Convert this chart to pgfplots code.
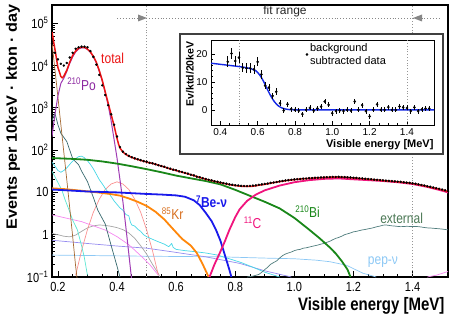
\documentclass[border=0pt]{standalone}
\usepackage{fontspec}
\setmainfont{Liberation Sans}
\usepackage{graphicx}
\usepackage{pgfplots}
\pgfplotsset{compat=1.18}
\newcommand{\vs}[1]{\scalebox{1}[1.2]{#1}}
\definecolor{cTot}{RGB}{235,20,20}
\definecolor{cPo}{RGB}{160,60,180}
\definecolor{cPoT}{RGB}{140,40,160}
\definecolor{cBe}{RGB}{25,25,235}
\definecolor{cKr}{RGB}{255,135,10}
\definecolor{cKrT}{RGB}{215,110,30}
\definecolor{cBi}{RGB}{25,135,25}
\definecolor{cC}{RGB}{240,20,125}
\definecolor{cExt}{RGB}{80,125,125}
\definecolor{cExtT}{RGB}{75,120,85}
\definecolor{cPep}{RGB}{140,200,245}
\definecolor{cBrown}{RGB}{165,105,50}
\definecolor{cTeal}{RGB}{55,105,110}
\definecolor{cCyan}{RGB}{70,215,230}
\definecolor{cAqua}{RGB}{90,230,210}
\definecolor{cCoral}{RGB}{250,145,145}
\definecolor{cOrchid}{RGB}{245,135,240}
\definecolor{cGray}{RGB}{165,165,165}
\definecolor{cLav}{RGB}{150,140,240}
\definecolor{cFit}{RGB}{20,40,230}
\definecolor{cVL}{RGB}{150,150,150}
\begin{document}
\begin{tikzpicture}
\useasboundingbox (0,0) rectangle (457pt,324pt);
% ---- main spectrum ----
\begin{axis}[
  at={(52pt,47pt)}, anchor=south west,
  scale only axis, width=396pt, height=272pt,
  ymode=log,
  xmin=0.18, xmax=1.52, ymin=0.1, ymax=2.7e5,
  xtick={0.2,0.4,0.6,0.8,1.0,1.2,1.4},
  xticklabels={\vs{0.2},\vs{0.4},\vs{0.6},\vs{0.8},\vs{1.0},\vs{1.2},\vs{1.4}},
  minor x tick num=3,
  ytick={0.1,1,10,100,1000,10000,100000},
  yticklabels={\vs{10\textsuperscript{−1}},\vs{1},\vs{10},\vs{10\textsuperscript{2}},\vs{10\textsuperscript{3}},\vs{10\textsuperscript{4}},\vs{10\textsuperscript{5}}},
  xtick pos=left, ytick pos=left,
  tick align=inside,
  major tick length=6pt, minor tick length=3pt,
  axis line style={line width=1.1pt},
  tick style={black, line width=0.7pt},
  tick label style={font=\fontsize{11}{12}\selectfont},
  xticklabel style={yshift=-1.5pt},
  every axis plot/.append style={line join=round},
]
% guide lines at the fit range limits
\addplot[cVL, dotted, line width=0.9pt] coordinates {(0.5,0.1)(0.5,2.7e5)};
\addplot[cVL, dotted, line width=0.9pt] coordinates {(1.4,0.1)(1.4,2.7e5)};
% thin components
\addplot[cPep, line width=0.7pt] coordinates {
 (0.18,0.33)(0.5,0.31)(0.75,0.30)(0.9,0.28)(1.0,0.27)(1.074,0.25)(1.12,0.23)(1.176,0.19)(1.232,0.123)(1.277,0.1)};
\addplot[cLav, line width=0.7pt] coordinates {
 (0.18,0.74)(0.3,0.62)(0.4,0.54)(0.5,0.48)(0.58,0.40)(0.7,0.30)(0.815,0.21)(0.9,0.14)(0.99,0.1)};
\addplot[cGray, line width=0.7pt] coordinates {
 (0.18,1.07)(0.20,1.0)(0.22,0.92)(0.24,0.89)(0.26,0.98)(0.28,1.2)(0.30,1.45)(0.32,1.62)(0.34,1.7)(0.36,1.66)
 (0.38,1.58)(0.40,1.47)(0.42,1.32)(0.44,1.1)(0.46,0.82)(0.48,0.55)(0.50,0.35)(0.52,0.2)(0.54,0.12)(0.545,0.1)};
\addplot[cOrchid, line width=0.7pt] coordinates {
 (0.18,2.95)(0.23,2.45)(0.28,2.04)(0.32,1.62)(0.36,1.29)(0.40,0.9)(0.44,0.58)(0.48,0.32)(0.51,0.2)(0.54,0.11)};
\addplot[cOrchid, line width=0.7pt] coordinates {(1.45,0.1)(1.48,0.11)(1.52,0.135)};
\addplot[cCoral, line width=0.7pt] coordinates {
 (0.26,0.11)(0.28,0.42)(0.30,1.32)(0.32,3.4)(0.34,6.9)(0.36,11.7)(0.38,15.8)(0.40,17.8)(0.42,15.8)
 (0.44,11.7)(0.46,6.9)(0.48,3.4)(0.50,1.32)(0.52,0.42)(0.54,0.11)};
\addplot[cAqua, line width=0.7pt] coordinates {
 (0.18,32)(0.195,20)(0.213,11.5)(0.225,6.5)(0.238,3.8)(0.25,2.2)(0.266,1.3)(0.28,0.55)(0.289,0.3)(0.30,0.11)};
\addplot[cCyan, line width=0.7pt] coordinates {
 (0.18,52)(0.19,42)(0.20,33)(0.21,30)(0.22,33)(0.23,38)(0.24,46)(0.25,55)(0.26,63)(0.27,70)(0.28,72)
 (0.29,66)(0.30,56)(0.31,46)(0.32,36)(0.33,27)(0.34,20)(0.35,16)(0.36,12.5)(0.37,10)(0.38,8)(0.39,6.3)
 (0.40,5.2)(0.41,4.3)(0.42,3.8)(0.43,3.0)(0.44,2.8)(0.445,2.0)(0.45,1.7)(0.46,1.6)(0.47,1.35)(0.48,1.2)
 (0.49,1.0)(0.50,0.9)(0.52,0.78)(0.54,0.68)(0.56,0.6)(0.575,0.52)(0.585,0.62)(0.59,0.5)(0.60,0.45)
 (0.63,0.42)(0.66,0.4)(0.70,0.37)(0.74,0.33)(0.78,0.27)(0.82,0.22)(0.86,0.17)(0.90,0.13)(0.95,0.1)};
\addplot[cTeal, line width=0.7pt] coordinates {
 (0.18,500)(0.19,740)(0.20,400)(0.21,250)(0.23,160)(0.25,63)(0.27,45)(0.28,32)(0.30,18)(0.32,7.6)
 (0.335,3.8)(0.36,1.8)(0.38,0.56)(0.40,0.18)(0.41,0.1)};
\addplot[cBrown, line width=0.7pt] coordinates {
 (0.18,35000)(0.19,7900)(0.20,1800)(0.21,400)(0.22,89)(0.23,20)(0.24,4.3)(0.25,0.9)(0.26,0.18)(0.265,0.09)};
\addplot[cExt, line width=0.7pt] coordinates {
 (0.84,0.1)(0.86,0.105)(0.88,0.115)(0.89,0.13)(0.90,0.15)(0.91,0.17)(0.92,0.2)(0.93,0.22)(0.94,0.24)
 (0.95,0.28)(0.96,0.32)(0.97,0.35)(0.98,0.37)(0.99,0.39)(1.00,0.42)(1.01,0.44)(1.02,0.45)(1.03,0.48)
 (1.04,0.49)(1.05,0.51)(1.06,0.53)(1.07,0.55)(1.08,0.57)(1.09,0.6)(1.10,0.62)(1.11,0.66)(1.12,0.7)
 (1.13,0.76)(1.14,0.82)(1.15,0.86)(1.16,0.92)(1.17,1.0)(1.18,1.05)(1.19,1.1)(1.20,1.17)(1.21,1.2)
 (1.22,1.25)(1.23,1.3)(1.24,1.33)(1.25,1.38)(1.26,1.42)(1.27,1.48)(1.28,1.55)(1.29,1.6)(1.30,1.68)
 (1.31,1.7)(1.32,1.66)(1.33,1.62)(1.34,1.6)(1.35,1.57)(1.36,1.55)(1.37,1.56)(1.38,1.58)(1.39,1.57)
 (1.40,1.56)(1.41,1.57)(1.42,1.55)(1.43,1.52)(1.44,1.48)(1.45,1.45)(1.46,1.44)(1.47,1.42)(1.48,1.4)
 (1.49,1.38)(1.50,1.36)(1.51,1.33)(1.52,1.3)};
% 210Po
\addplot[cPo, line width=1pt] coordinates {
 (0.18,210)(0.19,700)(0.20,1900)(0.21,3800)(0.22,5000)(0.23,7200)(0.24,11200)(0.25,16000)(0.26,21000)
 (0.27,24500)(0.28,26300)(0.29,26300)(0.30,24000)(0.31,20500)(0.32,16000)(0.33,11500)(0.34,7200)
 (0.35,4300)(0.36,2300)(0.37,1150)(0.38,500)(0.39,180)(0.40,65)(0.41,20)(0.42,6)(0.43,1.5)(0.44,0.35)(0.45,0.08)};
% thick components
\addplot[cKr, line width=1.8pt] coordinates {
 (0.18,12.5)(0.22,12.0)(0.26,11.3)(0.30,10.6)(0.34,9.9)(0.38,9.1)(0.41,8.4)(0.44,7.2)(0.47,6.0)
 (0.50,4.8)(0.53,3.5)(0.56,2.3)(0.59,1.35)(0.62,0.8)(0.65,0.55)(0.67,0.37)(0.69,0.2)(0.71,0.1)};
\addplot[cBe, line width=1.8pt] coordinates {
 (0.18,11.7)(0.25,11.0)(0.30,10.5)(0.40,10.0)(0.50,9.2)(0.55,8.9)(0.60,8.5)(0.63,7.9)(0.66,6.5)
 (0.68,5.0)(0.70,3.3)(0.72,2.1)(0.735,1.3)(0.75,0.72)(0.765,0.33)(0.78,0.15)(0.787,0.1)};
\addplot[cBi, line width=1.8pt] coordinates {
 (0.18,65)(0.25,62)(0.30,59)(0.35,54)(0.40,48)(0.45,41.5)(0.50,35.5)(0.55,30)(0.60,25)(0.65,21.5)
 (0.70,18.6)(0.75,15.5)(0.80,11.5)(0.85,8.3)(0.90,6.0)(0.95,4.2)(1.00,2.5)(1.05,1.32)(1.085,0.83)
 (1.12,0.5)(1.14,0.36)(1.16,0.24)(1.18,0.15)(1.19,0.1)};
\addplot[cC, line width=1.8pt] coordinates {
 (0.713,0.1)(0.73,0.2)(0.747,0.36)(0.765,0.7)(0.78,1.29)(0.80,2.6)(0.815,4.0)(0.84,6.3)(0.87,8.9)
 (0.90,11.2)(0.95,14.5)(1.00,17.4)(1.05,19.5)(1.10,20.9)(1.15,21.4)(1.20,20.4)(1.25,19.5)(1.30,18.6)
 (1.35,17.4)(1.40,15.8)(1.45,13.5)(1.50,11.0)(1.52,10.0)};
% total fit
\addplot[cTot, line width=1.5pt] coordinates {
 (0.18,62000)(0.19,24000)(0.20,9000)(0.21,5500)(0.215,5100)(0.22,5600)(0.23,7700)(0.24,12000)
 (0.25,17400)(0.26,22000)(0.27,25700)(0.28,27000)(0.29,27000)(0.30,24500)(0.31,21000)(0.32,16500)
 (0.33,12000)(0.34,7600)(0.35,4500)(0.36,2400)(0.37,1300)(0.38,700)(0.39,380)(0.40,190)(0.405,140)
 (0.41,112)(0.42,90)(0.43,79)(0.44,72)(0.45,67)(0.46,63)(0.47,60)(0.48,57)(0.49,55)(0.50,52)
 (0.52,48.5)(0.54,44)(0.56,40)(0.58,36)(0.60,33)(0.62,30)(0.64,27.5)(0.66,25)(0.68,22.5)(0.70,20.5)
 (0.72,19)(0.74,17.6)(0.76,16.4)(0.78,15.3)(0.80,14.5)(0.82,14)(0.84,13.8)(0.86,14)(0.88,14.8)
 (0.90,15.5)(0.92,16.5)(0.94,17.5)(0.96,18.4)(0.98,19.3)(1.00,20)(1.02,20.7)(1.04,21.2)(1.06,21.7)
 (1.08,22.1)(1.10,22.5)(1.12,22.8)(1.14,23)(1.16,22.9)(1.18,22.5)(1.20,22)(1.22,21.4)(1.24,20.8)
 (1.26,20.2)(1.28,19.6)(1.30,19)(1.32,18.5)(1.34,18)(1.36,17.5)(1.38,16.9)(1.40,16.2)(1.42,15.3)
 (1.44,14.3)(1.46,13.3)(1.48,12.4)(1.50,11.5)(1.52,10.5)};
% data
\addplot[only marks, mark=*, mark size=1.05pt, black] coordinates {
 (0.18,33000)(0.19,20000)(0.20,14000)(0.21,11000)(0.22,10000)(0.23,11500)(0.24,15500)(0.25,20000)
 (0.26,25000)(0.27,27000)(0.28,28000)(0.29,28000)(0.30,27000)(0.31,22000)(0.32,16000)(0.33,10500)
 (0.34,6000)(0.35,3400)(0.36,2000)(0.37,1150)(0.38,700)(0.39,400)(0.40,210)(0.41,118)(0.42,92)
 (0.43,81)(0.44,73)(0.45,68)(0.46,64)(0.47,61)(0.48,58)(0.49,55)(0.50,53.5)(0.51,50)(0.52,49)
 (0.53,46.5)(0.54,44)(0.55,42)(0.56,40.5)(0.57,38)(0.58,36.5)(0.59,34.5)(0.60,33.5)(0.61,31.5)
 (0.62,30.5)(0.63,29)(0.64,27.8)(0.65,26.2)(0.66,25.3)(0.67,23.6)(0.68,22.8)(0.69,21.7)(0.70,20.8)
 (0.71,19.9)(0.72,19.3)(0.73,18.4)(0.74,17.9)(0.75,17.2)(0.76,16.6)(0.77,16.1)(0.78,15.5)(0.79,15.2)
 (0.80,14.8)(0.81,14.6)(0.82,14.3)(0.83,14.2)(0.84,14.1)(0.85,14.3)(0.86,14.5)(0.87,14.7)(0.88,15.2)
 (0.89,15.5)(0.90,15.9)(0.91,16.2)(0.92,16.8)(0.93,17.2)(0.94,17.6)(0.95,18.3)(0.96,18.6)(0.97,19.2)
 (0.98,19.5)(0.99,19.9)(1.00,20.3)(1.01,20.6)(1.02,20.8)(1.03,21.2)(1.04,21.3)(1.05,21.8)(1.06,21.8)
 (1.07,22.2)(1.08,22.3)(1.09,22.6)(1.10,22.7)(1.11,22.9)(1.12,23.1)(1.13,23.3)(1.14,23.2)(1.15,23.4)
 (1.16,23.1)(1.17,23.0)(1.18,22.8)(1.19,22.6)(1.20,22.2)(1.21,22.0)(1.22,21.6)(1.23,21.4)(1.24,21.0)
 (1.25,20.8)(1.26,20.5)(1.27,20.1)(1.28,19.9)(1.29,19.6)(1.30,19.3)(1.31,19.0)(1.32,18.8)(1.33,18.5)
 (1.34,18.3)(1.35,18.0)(1.36,17.8)(1.37,17.4)(1.38,17.1)(1.39,16.8)(1.40,16.4)(1.41,16.0)(1.42,15.5)
 (1.43,15.0)(1.44,14.6)(1.45,14.0)(1.46,13.6)(1.47,13.1)(1.48,12.6)(1.49,12.2)(1.50,11.7)(1.51,11.2)
 (1.52,10.7)};
% curve labels
\node[cTot, font=\fontsize{12}{12}\selectfont] at (axis cs:0.385,15000) {\vs{total}};
\node[cPoT, font=\fontsize{12}{12}\selectfont] at (axis cs:0.28,3600) {\vs{\textsuperscript{210}Po}};
\node[cBe, font=\bfseries\fontsize{12}{12}\selectfont] at (axis cs:0.72,6.0) {\vs{\textsuperscript{7}Be-ν}};
\node[cKrT, font=\fontsize{12}{12}\selectfont] at (axis cs:0.588,3.2) {\vs{\textsuperscript{85}Kr}};
\node[cC, font=\fontsize{12}{12}\selectfont] at (axis cs:0.859,1.9) {\vs{\textsuperscript{11}C}};
\node[cBi, font=\fontsize{12}{12}\selectfont] at (axis cs:1.045,3.5) {\vs{\textsuperscript{210}Bi}};
\node[cExtT, font=\fontsize{12}{12}\selectfont] at (axis cs:1.363,2.45) {\vs{external}};
\node[cPep, font=\fontsize{12}{12}\selectfont] at (axis cs:1.30,0.226) {\vs{pep-ν}};
\end{axis}
% fit range marker
\draw[cVL!90!black, dotted, line width=0.9pt] (117pt,306pt) -- (440pt,306pt);
\fill[cVL!90!black] (138pt,302.5pt) -- (147pt,306pt) -- (138pt,309.5pt) -- cycle;
\fill[cVL!90!black] (422pt,302.5pt) -- (413pt,306pt) -- (422pt,309.5pt) -- cycle;
\node[black!85, font=\fontsize{12}{12}\selectfont] at (285pt,313pt) {fit range};
% axis titles
\node[anchor=base east, font=\bfseries\fontsize{15}{15}\selectfont] at (448pt,14pt) {\vs{Visible energy [MeV]}};
\node[rotate=90, font=\bfseries\fontsize{15}{15}\selectfont] at (13pt,207pt) {\scalebox{1.08}[1]{Events per 10keV · kton · day}};
% ---- inset ----
\draw[black!75, line width=1.2pt, fill=white] (180pt,170pt) rectangle (443pt,290pt);
\begin{axis}[
  at={(211pt,199pt)}, anchor=south west,
  scale only axis, width=223pt, height=85pt,
  xmin=0.35, xmax=1.545, ymin=-5.4, ymax=25,
  xtick={0.4,0.6,0.8,1.0,1.2,1.4},
  xticklabels={0.4,0.6,0.8,1.0,1.2,1.4},
  ytick={0,10,20}, yticklabels={0,10,20},
  minor x tick num=3, minor y tick num=4,
  xtick pos=left, ytick pos=left,
  tick align=inside,
  major tick length=4pt, minor tick length=2pt,
  axis line style={line width=0.9pt},
  tick style={black, line width=0.6pt},
  tick label style={font=\fontsize{10}{11}\selectfont},
  legend style={draw=none, fill=none, at={(0.42,1.0)}, anchor=north west,
    font=\fontsize{11}{13}\selectfont, inner sep=1pt, row sep=0pt,
    cells={align=left}},
  legend cell align=left,
]
\addplot[cVL, dotted, line width=0.8pt, forget plot] coordinates {(0.5,-5.4)(0.5,25)};
\addplot[cVL, dotted, line width=0.8pt, forget plot] coordinates {(1.4,-5.4)(1.4,25)};
\addplot[cFit, line width=1.4pt, smooth, forget plot] coordinates {
 (0.35,16.7)(0.40,16.3)(0.45,15.9)(0.50,15.5)(0.54,15.1)(0.57,14.6)(0.59,14.0)(0.61,12.6)(0.63,10.4)
 (0.65,7.6)(0.67,5.0)(0.69,2.9)(0.71,1.5)(0.73,0.7)(0.75,0.3)(0.77,0.1)(0.80,0.02)(0.85,0)(1.0,0)(1.545,0)};
\addplot[only marks, mark=*, mark size=1.1pt, black,
  error bars/.cd, y dir=both, y explicit, error bar style={line width=0.6pt}, error mark=none]
  table[x=x, y=y, y error=e] {
x y e
0.44 17.2 1.9
0.46 20.2 1.9
0.48 17.5 1.9
0.50 18.7 1.9
0.52 15.1 1.7
0.54 14.9 1.7
0.56 14.9 1.7
0.58 14.5 1.6
0.60 17.2 1.6
0.62 12.7 1.5
0.64 8.7 1.4
0.66 8.0 1.3
0.68 5.0 1.2
0.70 6.5 1.2
0.72 2.4 1.1
0.74 -0.2 1.0
0.76 2.0 1.0
0.78 0.3 0.9
0.80 0.0 0.9
0.82 -0.3 0.9
0.84 -1.5 0.9
0.86 0.0 0.9
0.88 0.7 0.9
0.90 -0.3 0.9
0.92 0.5 0.9
0.94 1.2 0.9
0.96 3.0 0.9
0.98 1.8 0.9
1.00 -1.2 0.9
1.02 -0.4 0.9
1.04 -0.2 0.9
1.06 -0.4 0.9
1.08 0.0 0.9
1.10 -0.3 0.9
1.12 3.0 0.9
1.14 0.0 0.9
1.16 1.7 0.9
1.18 -0.4 0.9
1.20 -2.3 0.9
1.22 0.0 0.9
1.24 2.0 0.9
1.26 0.0 0.9
1.28 0.0 0.9
1.30 1.0 0.9
1.32 0.0 0.9
1.34 0.0 0.9
1.36 1.2 0.9
1.38 0.9 0.9
1.40 0.7 0.9
1.42 -0.4 0.9
1.44 0.9 0.9
1.46 -0.4 0.9
1.48 0.2 0.9
1.50 0.5 0.9
1.52 0.5 0.9
};
\addlegendentry{background\\subtracted data}
\end{axis}
\node[anchor=base east, font=\bfseries\fontsize{11}{11}\selectfont] at (437pt,176pt) {Visible energy [MeV]};
\node[rotate=90, font=\bfseries\fontsize{10.5}{11}\selectfont] at (190pt,250pt) {Ev/ktd/20keV};
\end{tikzpicture}
\end{document}
